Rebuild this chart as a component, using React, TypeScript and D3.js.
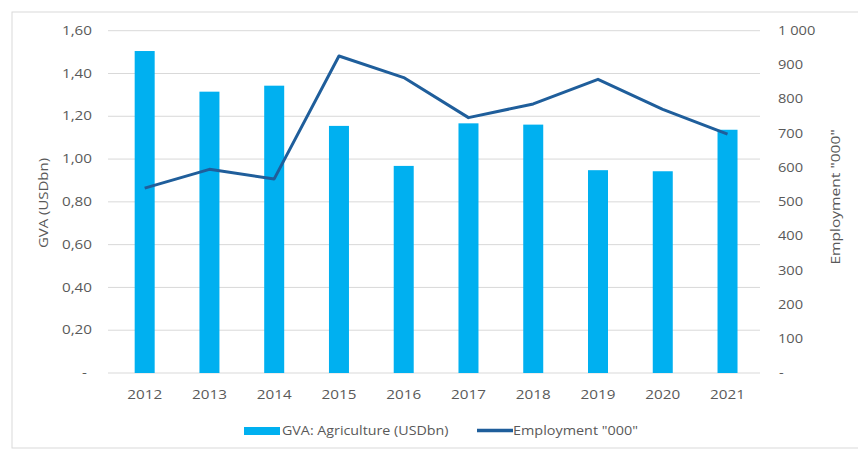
import React from "react";
import * as d3 from "d3";

const years = ["2012", "2013", "2014", "2015", "2016", "2017", "2018", "2019", "2020", "2021"];
const gva = [1.505, 1.315, 1.343, 1.155, 0.968, 1.167, 1.161, 0.948, 0.943, 1.137];
const employment = [540, 595, 567, 926, 863, 746, 786, 858, 770, 698];
const leftTicks = [0, 0.2, 0.4, 0.6, 0.8, 1.0, 1.2, 1.4, 1.6];
const rightTicks = [0, 100, 200, 300, 400, 500, 600, 700, 800, 900, 1000];
const barLabel = "GVA: Agriculture (USDbn)";
const lineLabel = 'Employment "000"';
const leftTitle = "GVA (USDbn)";

const W = 858;
const H = 450;
const BAR = "#00B0F0";
const LINE = "#1F5E9B";
const TXT = "#595959";
const FONT = "'Open Sans', 'Noto Sans', sans-serif";

type TProps = {
  x: number;
  y: number;
  sx: number;
  size: number;
  anchor?: "start" | "middle" | "end";
  rotate?: number;
  children: React.ReactNode;
};

function T({ x, y, sx, size, anchor = "start", rotate = 0, children }: TProps) {
  return (
    <text
      transform={`translate(${x},${y}) rotate(${rotate}) scale(${sx},1)`}
      textAnchor={anchor}
      dy="0.35em"
      fontSize={size}
      fill={TXT}
    >
      {children}
    </text>
  );
}

export default function App() {
  const x = d3.scaleBand().domain(years).range([112.3, 759.9]).paddingInner(0).paddingOuter(0);
  const yL = d3.scaleLinear().domain([0, 1.6]).range([373, 30.7]);
  const yR = d3.scaleLinear().domain([0, 1000]).range([373, 30.7]);
  const bw = 20;
  const cx = (d: string) => (x(d) as number) + x.bandwidth() / 2;
  const line = d3
    .line<number>()
    .x((_, i) => cx(years[i]))
    .y((v) => yR(v));
  const fmtL = (v: number) => (v === 0 ? "-" : v.toFixed(2).replace(".", ","));
  const fmtR = (v: number) => (v === 0 ? "-" : v >= 1000 ? "1 000" : String(v));

  return (
    <svg width={W} height={H} style={{ position: "absolute", left: 0, top: 0, fontFamily: FONT }}>
      <rect x={0} y={0} width={W} height={H} fill="#fff" />
      <rect x={12} y={12} width={W} height={436} fill="#fff" stroke="#d9d9d9" strokeWidth={1} />
      {leftTicks.map((t) => (
        <line key={"g" + t} x1={108} x2={760} y1={yL(t)} y2={yL(t)} stroke="#d9d9d9" strokeWidth={1} />
      ))}
      {leftTicks.map((t) => (
        <T key={"l" + t} x={t === 0 ? 87 : 92} y={yL(t)} sx={1.27} size={12} anchor="end">
          {fmtL(t)}
        </T>
      ))}
      {rightTicks.map((t) => (
        <T key={"r" + t} x={t === 0 ? 779 : 778} y={yR(t)} sx={1.22} size={12}>
          {fmtR(t)}
        </T>
      ))}
      <T x={43} y={203} sx={1.15} size={13} anchor="middle" rotate={-90}>
        {leftTitle}
      </T>
      <T x={835} y={197} sx={1.2} size={13} anchor="middle" rotate={-90}>
        {lineLabel}
      </T>
      {years.map((yr, i) => (
        <rect key={"b" + yr} x={cx(yr) - bw / 2} y={yL(gva[i])} width={bw} height={yL(0) - yL(gva[i])} fill={BAR} />
      ))}
      <path d={line(employment) || ""} fill="none" stroke={LINE} strokeWidth={3} strokeLinejoin="round" />
      {years.map((yr) => (
        <T key={"x" + yr} x={cx(yr)} y={395} sx={1.27} size={12} anchor="middle">
          {yr}
        </T>
      ))}
      <rect x={244} y={427} width={36} height={8} fill={BAR} />
      <T x={282} y={431} sx={1.19} size={12}>
        {barLabel}
      </T>
      <line x1={477} x2={513} y1={430.5} y2={430.5} stroke={LINE} strokeWidth={3.5} />
      <T x={513} y={431} sx={1.2} size={12}>
        {lineLabel}
      </T>
    </svg>
  );
}
